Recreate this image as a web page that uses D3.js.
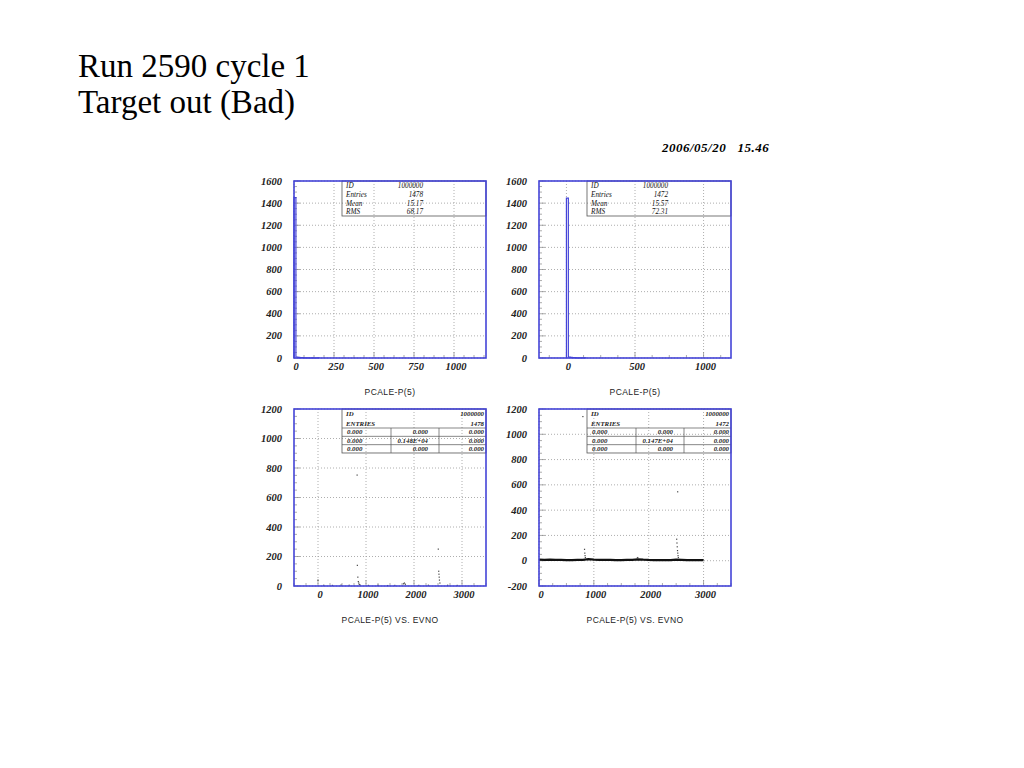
<!DOCTYPE html>
<html><head><meta charset="utf-8">
<script src="https://cdn.jsdelivr.net/npm/d3@7"></script>
<style>body{margin:0;background:#fff}</style>
</head><body>
<svg id="c" width="1024" height="768" xmlns="http://www.w3.org/2000/svg"></svg>
<script>
// ---------------- data ----------------
const titleLines = ["Run 2590 cycle 1", "Target out (Bad)"];
const dateStamp = "2006/05/20   15.46";

const hist1BinWidth = 12;
const hist1Counts = [1450, 9, 6, 4, 3, 2, 1, 1, 0, 1, 0, 0, 1];
const hist2BinWidth = 14;
const hist2Counts = [1445, 8, 6, 4, 3, 2, 1, 1, 1, 1];

const hist1XTicks = [0, 250, 500, 750, 1000];
const hist2XTicks = [0, 500, 1000];
const histYTicks = [0, 200, 400, 600, 800, 1000, 1200, 1400, 1600];
const scat1XTicks = [0, 1000, 2000, 3000];
const scat1YTicks = [0, 200, 400, 600, 800, 1000, 1200];
const scat2XTicks = [0, 1000, 2000, 3000];
const scat2YTicks = [-200, 0, 200, 400, 600, 800, 1000, 1200];

const histTitle = "PCALE-P(5)";
const scatTitle = "PCALE-P(5) VS. EVNO";

const stats1 = [["ID", "1000000"], ["Entries", "1478"], ["Mean", "15.17"], ["RMS", "68.17"]];
const stats2 = [["ID", "1000000"], ["Entries", "1472"], ["Mean", "15.57"], ["RMS", "72.31"]];
const scatHead1 = [["ID", "1000000"], ["ENTRIES", "1478"]];
const scatGrid1 = [["0.000", "0.000", "0.000"], ["0.000", "0.148E+04", "0.000"], ["0.000", "0.000", "0.000"]];
const scatHead2 = [["ID", "1000000"], ["ENTRIES", "1472"]];
const scatGrid2 = [["0.000", "0.000", "0.000"], ["0.000", "0.147E+04", "0.000"], ["0.000", "0.000", "0.000"]];

// scatter 1 (PCALE-P vs EVNO) – visible points
const scat1Evno = [0, 120, 300, 480, 650, 815, 820, 830, 840, 850, 860, 880, 1050, 1250, 1450, 1600, 1780, 1800, 1820, 2100, 2300, 2506, 2515, 2520, 2525, 2530, 2540, 2700, 2900];
const scat1Val  = [40, 5, 4, 6, 5, 752, 140, 60, 30, 20, 10, 6, 4, 5, 3, 4, 15, 20, 12, 4, 5, 250, 100, 80, 60, 40, 20, 5, 4];

// scatter 2 – dense baseline
const scat2LineEvno = [0, 100, 200, 300, 400, 500, 600, 700, 800, 900, 1000, 1100, 1200, 1300, 1400, 1500, 1600, 1700, 1800, 1900, 2000, 2100, 2200, 2300, 2400, 2500, 2600, 2700, 2800, 2900, 3000];
const scat2LineVal  = [8, 7, 9, 6, 6, 5, 5, 6, 7, 12, 9, 7, 6, 6, 5, 5, 6, 7, 11, 8, 6, 5, 5, 4, 5, 9, 7, 5, 4, 4, 5];
// scatter 2 – outliers
const scat2Evno = [800, 830, 835, 840, 845, 1790, 1800, 2510, 2515, 2520, 2525, 2528, 2530, 2535, 2540];
const scat2Val  = [1140, 90, 60, 40, 25, 20, 25, 170, 140, 110, 80, 545, 60, 40, 25];

// ---------------- drawing ----------------
const svg = d3.select("#c");
const BLUE = "#4444d8";
const serif = "'Liberation Serif','Times New Roman',serif";
const sans = "'Liberation Sans',Arial,sans-serif";

svg.selectAll("text.title").data(titleLines).join("text")
  .attr("x", 78).attr("y", (d, i) => 77 + i * 36)
  .attr("font-family", serif).attr("font-size", 33).attr("fill", "#000")
  .text(d => d);

svg.append("text").attr("x", 662).attr("y", 152)
  .attr("font-family", serif).attr("font-size", 13).attr("font-weight", "bold")
  .attr("font-style", "italic").attr("letter-spacing", 0.5)
  .style("white-space", "pre").text(dateStamp);

function makePanel(cfg) {
  const g = svg.append("g");
  const x = d3.scaleLinear().domain(cfg.xd).range([cfg.l, cfg.r]);
  const y = d3.scaleLinear().domain(cfg.yd).range([cfg.b, cfg.t]);
  g.selectAll("line.gx").data(cfg.xt).join("line")
    .attr("x1", d => x(d)).attr("x2", d => x(d)).attr("y1", cfg.t).attr("y2", cfg.b)
    .attr("stroke", "#999").attr("stroke-width", 0.8).attr("stroke-dasharray", "1,2");
  g.selectAll("line.gy").data(cfg.yt).join("line")
    .attr("y1", d => y(d)).attr("y2", d => y(d)).attr("x1", cfg.l).attr("x2", cfg.r)
    .attr("stroke", "#999").attr("stroke-width", 0.8).attr("stroke-dasharray", "1,2");
  const yStep = cfg.yt[1] - cfg.yt[0];
  const yMinor = d3.range(cfg.yd[0], cfg.yd[1] + 1e-9, yStep / 4);
  g.selectAll("line.my").data(yMinor).join("line")
    .attr("x1", cfg.l).attr("x2", (d, i) => cfg.l + (i % 4 === 0 ? 6 : 3))
    .attr("y1", d => y(d)).attr("y2", d => y(d)).attr("stroke", "#888").attr("stroke-width", 0.7);
  const xStep = cfg.xt[1] - cfg.xt[0];
  const xMinor = d3.range(cfg.xt[0] - xStep * 3, cfg.xd[1] + 1e-9, xStep / 4).filter(v => v >= cfg.xd[0]);
  g.selectAll("line.mx").data(xMinor).join("line")
    .attr("x1", d => x(d)).attr("x2", d => x(d))
    .attr("y1", cfg.b).attr("y2", d => cfg.b - (Math.abs(((d - cfg.xt[0]) / xStep) % 1) < 1e-6 ? 6 : 3))
    .attr("stroke", "#888").attr("stroke-width", 0.7);
  g.selectAll("text.ty").data(cfg.yt).join("text")
    .attr("x", cfg.l - 12).attr("y", d => y(d) + 3.5).attr("text-anchor", "end")
    .attr("font-family", serif).attr("font-size", 10.5).attr("font-weight", "bold").attr("font-style", "italic")
    .attr("fill", "#222").text(d => d);
  g.selectAll("text.tx").data(cfg.xt).join("text")
    .attr("x", d => x(d) + 2).attr("y", cfg.b + 12).attr("text-anchor", "middle")
    .attr("font-family", serif).attr("font-size", 10.5).attr("font-weight", "bold").attr("font-style", "italic")
    .attr("fill", "#222").text(d => d);
  g.append("text").attr("x", (cfg.l + cfg.r) / 2).attr("y", cfg.b + cfg.titleDy)
    .attr("text-anchor", "middle").attr("font-family", sans).attr("font-size", 8.5)
    .attr("letter-spacing", 0.4).attr("fill", "#222").text(cfg.title);
  return { g, x, y };
}

function drawFrame(p, cfg) {
  p.g.append("rect").attr("x", cfg.l).attr("y", cfg.t).attr("width", cfg.r - cfg.l).attr("height", cfg.b - cfg.t)
    .attr("fill", "none").attr("stroke", BLUE).attr("stroke-width", 1.6);
}

function drawHist(p, counts, bw) {
  const pts = [[p.x(0), p.y(0)]];
  counts.forEach((c, i) => {
    pts.push([p.x(i * bw), p.y(c)]);
    pts.push([p.x((i + 1) * bw), p.y(c)]);
  });
  pts.push([p.x(counts.length * bw), p.y(0)]);
  p.g.append("path").attr("d", d3.line()(pts)).attr("fill", "none")
    .attr("stroke", BLUE).attr("stroke-width", 1.2);
}

function drawHistStats(p, cfg, rows) {
  const left = cfg.l + 48, top = cfg.t, h = 8.75;
  p.g.append("rect").attr("x", left).attr("y", top).attr("width", cfg.r - left).attr("height", h * rows.length)
    .attr("fill", "none").attr("stroke", "#555").attr("stroke-width", 0.8);
  rows.forEach((r, i) => {
    p.g.append("text").attr("x", left + 4).attr("y", top + h * i + 7)
      .attr("font-family", serif).attr("font-size", 7.2).attr("font-style", "italic").attr("fill", "#111").text(r[0]);
    p.g.append("text").attr("x", left + 81).attr("y", top + h * i + 7).attr("text-anchor", "end")
      .attr("font-family", serif).attr("font-size", 7.2).attr("font-style", "italic").attr("fill", "#111").text(r[1]);
  });
}

function drawScatStats(p, cfg, head, grid) {
  const left = cfg.l + 48, right = cfg.r, top = cfg.t, hh = 9.5, gh = 8.33;
  const gTop = top + hh * 2, bottom = gTop + gh * 3;
  const ln = (x1, y1, x2, y2) => p.g.append("line").attr("x1", x1).attr("y1", y1).attr("x2", x2).attr("y2", y2)
    .attr("stroke", "#555").attr("stroke-width", 0.7);
  p.g.append("rect").attr("x", left).attr("y", top).attr("width", right - left).attr("height", bottom - top)
    .attr("fill", "none").attr("stroke", "#555").attr("stroke-width", 0.8);
  for (let i = 0; i < 3; i++) ln(left, gTop + gh * i, right, gTop + gh * i);
  ln(left + 49, gTop, left + 49, bottom);
  ln(left + 97, gTop, left + 97, bottom);
  const txt = (x, y, s, anchor) => p.g.append("text").attr("x", x).attr("y", y).attr("text-anchor", anchor)
    .attr("font-family", serif).attr("font-size", 6.8).attr("font-style", "italic").attr("font-weight", "bold")
    .attr("fill", "#222").text(s);
  head.forEach((r, i) => {
    txt(left + 4, top + hh * i + 7, r[0], "start");
    txt(right - 2, top + hh * i + 7, r[1], "end");
  });
  grid.forEach((r, i) => {
    const yy = gTop + gh * i + 6.3;
    txt(left + 5, yy, r[0], "start");
    txt(left + 86, yy, r[1], "end");
    txt(right - 2, yy, r[2], "end");
  });
}

function drawDots(p, xs, ys) {
  p.g.selectAll(null).data(xs.map((d, i) => [d, ys[i]])).join("rect")
    .attr("x", d => p.x(d[0]) - 0.6).attr("y", d => p.y(d[1]) - 0.6)
    .attr("width", 1.2).attr("height", 1.2).attr("fill", "#444");
}

// panel configs (layout only)
const c1 = { l: 294, r: 486, t: 181, b: 358, xd: [0, 1200], yd: [0, 1600], xt: hist1XTicks, yt: histYTicks, title: histTitle, titleDy: 37 };
const c2 = { l: 539, r: 731, t: 181, b: 358, xd: [-200, 1200], yd: [0, 1600], xt: hist2XTicks, yt: histYTicks, title: histTitle, titleDy: 37 };
const c3 = { l: 294, r: 486, t: 409, b: 586, xd: [-500, 3500], yd: [0, 1200], xt: scat1XTicks, yt: scat1YTicks, title: scatTitle, titleDy: 37 };
const c4 = { l: 539, r: 731, t: 409, b: 586, xd: [0, 3500], yd: [-200, 1200], xt: scat2XTicks, yt: scat2YTicks, title: scatTitle, titleDy: 37 };

const p1 = makePanel(c1);
drawHistStats(p1, c1, stats1);
drawHist(p1, hist1Counts, hist1BinWidth);
drawFrame(p1, c1);

const p2 = makePanel(c2);
drawHistStats(p2, c2, stats2);
drawHist(p2, hist2Counts, hist2BinWidth);
drawFrame(p2, c2);

const p3 = makePanel(c3);
drawScatStats(p3, c3, scatHead1, scatGrid1);
drawDots(p3, scat1Evno, scat1Val);
drawFrame(p3, c3);

const p4 = makePanel(c4);
drawScatStats(p4, c4, scatHead2, scatGrid2);
p4.g.append("path")
  .attr("d", d3.line().x(d => p4.x(d[0])).y(d => p4.y(d[1]))(scat2LineEvno.map((d, i) => [d, scat2LineVal[i]])))
  .attr("fill", "none").attr("stroke", "#111").attr("stroke-width", 2.2);
drawDots(p4, scat2Evno, scat2Val);
drawFrame(p4, c4);
</script>
</body></html>
